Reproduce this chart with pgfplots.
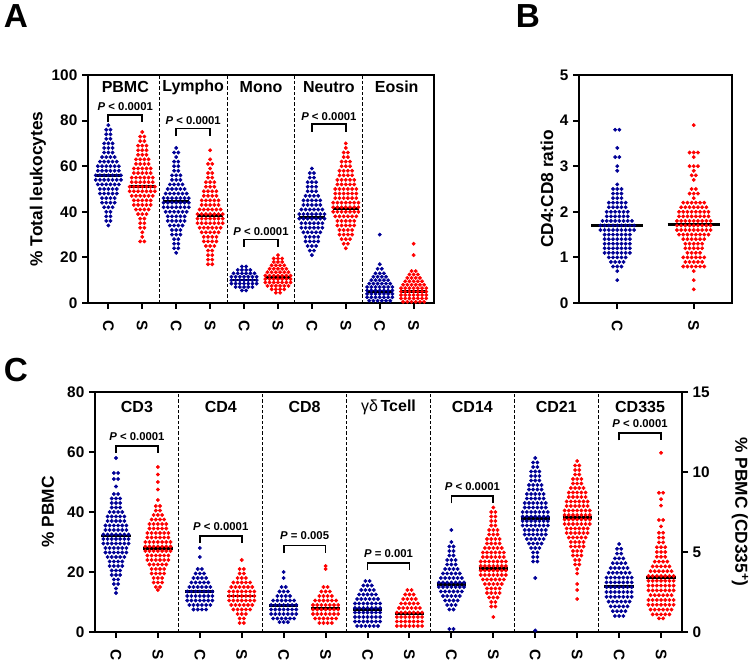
\documentclass[border=0pt]{standalone}
\usepackage{fontspec}
\setmainfont{Liberation Sans}
\usepackage{pgfplots}
\pgfplotsset{compat=1.18}
\definecolor{cb}{RGB}{0,0,150}
\definecolor{cr}{RGB}{255,0,0}
\newcommand\tk{\bfseries\fontsize{11.5}{13}\selectfont}
\newcommand\cat{\bfseries\fontsize{12}{14}\selectfont}
\newcommand\pv{\bfseries\fontsize{8.5}{10}\selectfont}
\newcommand\yl{\bfseries\fontsize{13}{15}\selectfont}
\newcommand\pl{\bfseries\fontsize{25}{27}\selectfont}
\def\ha{0.062}
\def\hb{0.0275}
\def\hc{0.05}
\tikzset{div/.style={black, line width=0.7pt, dash pattern=on 2.5pt off 1.5pt}}
\pgfplotsset{
  panel/.style={scale only axis, clip=false, axis line style={line width=1.5pt},
    tick align=outside, tick pos=left, major tick length=4.5pt,
    tick style={black, line width=1.5pt},
    /pgf/number format/assume math mode=true,
    yticklabel style={font=\tk},
    xticklabel style={font=\tk, rotate=-90, anchor=west},
    xticklabel shift=5pt, ymin=0},
  pc/.style={only marks, mark=*, mark size=1.25pt, color=cb},
  ps/.style={only marks, mark=*, mark size=1.25pt, color=cr},
  med/.style={black, line width=2.2pt},
  brk/.style={black, line width=1.3pt},
}
\begin{document}
\begin{tikzpicture}
\path[use as bounding box] (0,0) rectangle (565.5pt,-499.5pt);
\node[font=\pl] at (12pt,-12pt) {A};
\node[font=\pl] at (396pt,-12pt) {B};
\node[font=\pl] at (12pt,-277.5pt) {C};

% ---------------- panel A
\begin{axis}[panel, at={(66pt,-227.25pt)}, anchor=south west,
  width=259.5pt, height=171pt, xmin=0.4, xmax=10.6, ymax=100,
  ytick={0,20,...,100}, xtick={1,...,10},
  xticklabels={C,S,C,S,C,S,C,S,C,S}]
\pgfplotsinvokeforeach{2.5,4.5,6.5,8.5}{\draw[div] (axis cs:#1,0) -- (axis cs:#1,100);}
\node[font=\yl, rotate=90] at ([xshift=-37.5pt]rel axis cs:0,0.5) {\% Total leukocytes};
\node[font=\cat] at (axis cs:1.5,94.7) {PBMC};
\node[font=\cat] at (axis cs:3.5,94.7) {Lympho};
\node[font=\cat] at (axis cs:5.5,94.7) {Mono};
\node[font=\cat] at (axis cs:7.5,94.7) {Neutro};
\node[font=\cat] at (axis cs:9.5,94.7) {Eosin};
% PBMC C
\addplot[pc] table[row sep=\\, x expr=1+\ha*\thisrow{d}]{d y\\
0 78\\ -1 76\\ 1 76\\ -1 74\\ 1 74\\ -1 72\\ 1 72\\
-2 70\\ 0 70\\ 2 70\\ -2 68\\ 0 68\\ 2 68\\ -2 66\\ 0 66\\ 2 66\\
-3 64\\ -1 64\\ 1 64\\ 3 64\\
-4 62\\ -2 62\\ 0 62\\ 2 62\\ 4 62\\
-5 60\\ -3 60\\ -1 60\\ 1 60\\ 3 60\\ 5 60\\
-5 58\\ -3 58\\ -1 58\\ 1 58\\ 3 58\\ 5 58\\
-6 56\\ -4 56\\ -2 56\\ 0 56\\ 2 56\\ 4 56\\ 6 56\\
-6 54\\ -4 54\\ -2 54\\ 0 54\\ 2 54\\ 4 54\\ 6 54\\
-5 52\\ -3 52\\ -1 52\\ 1 52\\ 3 52\\ 5 52\\
-4 50\\ -2 50\\ 0 50\\ 2 50\\ 4 50\\
-4 48\\ -2 48\\ 0 48\\ 2 48\\ 4 48\\
-3 46\\ -1 46\\ 1 46\\ 3 46\\ -3 44\\ -1 44\\ 1 44\\ 3 44\\
-2 42\\ 0 42\\ 2 42\\ -1 40\\ 1 40\\ -1 38\\ 1 38\\ -1 36\\ 1 36\\ 0 34\\
};
% PBMC S
\addplot[ps] table[row sep=\\, x expr=2+\ha*\thisrow{d}]{d y\\
0 75\\ -1 73\\ 1 73\\ -1 71\\ 1 71\\
-2 69\\ 0 69\\ 2 69\\ -2 67\\ 0 67\\ 2 67\\ -2 65\\ 0 65\\ 2 65\\
-3 63\\ -1 63\\ 1 63\\ 3 63\\ -3 61\\ -1 61\\ 1 61\\ 3 61\\
-4 59\\ -2 59\\ 0 59\\ 2 59\\ 4 59\\ -4 57\\ -2 57\\ 0 57\\ 2 57\\ 4 57\\
-5 55\\ -3 55\\ -1 55\\ 1 55\\ 3 55\\ 5 55\\
-5 53\\ -3 53\\ -1 53\\ 1 53\\ 3 53\\ 5 53\\
-6 51\\ -4 51\\ -2 51\\ 0 51\\ 2 51\\ 4 51\\ 6 51\\
-6 49\\ -4 49\\ -2 49\\ 0 49\\ 2 49\\ 4 49\\ 6 49\\
-5 47\\ -3 47\\ -1 47\\ 1 47\\ 3 47\\ 5 47\\
-4 45\\ -2 45\\ 0 45\\ 2 45\\ 4 45\\ -4 43\\ -2 43\\ 0 43\\ 2 43\\ 4 43\\
-3 41\\ -1 41\\ 1 41\\ 3 41\\ -2 39\\ 0 39\\ 2 39\\
-1 37\\ 1 37\\ -1 35\\ 1 35\\ -1 33\\ 1 33\\ 0 31\\ 0 29\\ -1 27\\ 1 27\\
};
% Lympho C
\addplot[pc] table[row sep=\\, x expr=3+\ha*\thisrow{d}]{d y\\
0 68\\ -1 66\\ 1 66\\ 0 64\\ -1 62\\ 1 62\\ -1 60\\ 1 60\\ -1 58\\ 1 58\\
-2 56\\ 0 56\\ 2 56\\ -2 54\\ 0 54\\ 2 54\\
-3 52\\ -1 52\\ 1 52\\ 3 52\\
-4 50\\ -2 50\\ 0 50\\ 2 50\\ 4 50\\
-5 48\\ -3 48\\ -1 48\\ 1 48\\ 3 48\\ 5 48\\
-6 46\\ -4 46\\ -2 46\\ 0 46\\ 2 46\\ 4 46\\ 6 46\\
-6 44\\ -4 44\\ -2 44\\ 0 44\\ 2 44\\ 4 44\\ 6 44\\
-6 42\\ -4 42\\ -2 42\\ 0 42\\ 2 42\\ 4 42\\ 6 42\\
-5 40\\ -3 40\\ -1 40\\ 1 40\\ 3 40\\ 5 40\\
-4 38\\ -2 38\\ 0 38\\ 2 38\\ 4 38\\ -4 36\\ -2 36\\ 0 36\\ 2 36\\ 4 36\\
-3 34\\ -1 34\\ 1 34\\ 3 34\\ -2 32\\ 0 32\\ 2 32\\ -2 30\\ 0 30\\ 2 30\\
-1 28\\ 1 28\\ -1 26\\ 1 26\\ -1 24\\ 1 24\\ 0 22\\
};
% Lympho S
\addplot[ps] table[row sep=\\, x expr=4+\ha*\thisrow{d}]{d y\\
0 67\\ 0 63\\ -1 61\\ 1 61\\ 0 59\\ -1 57\\ 1 57\\ -1 55\\ 1 55\\
-2 53\\ 0 53\\ 2 53\\ -2 51\\ 0 51\\ 2 51\\
-3 49\\ -1 49\\ 1 49\\ 3 49\\ -3 47\\ -1 47\\ 1 47\\ 3 47\\
-4 45\\ -2 45\\ 0 45\\ 2 45\\ 4 45\\ -4 43\\ -2 43\\ 0 43\\ 2 43\\ 4 43\\
-5 41\\ -3 41\\ -1 41\\ 1 41\\ 3 41\\ 5 41\\
-6 39\\ -4 39\\ -2 39\\ 0 39\\ 2 39\\ 4 39\\ 6 39\\
-6 37\\ -4 37\\ -2 37\\ 0 37\\ 2 37\\ 4 37\\ 6 37\\
-6 35\\ -4 35\\ -2 35\\ 0 35\\ 2 35\\ 4 35\\ 6 35\\
-5 33\\ -3 33\\ -1 33\\ 1 33\\ 3 33\\ 5 33\\
-4 31\\ -2 31\\ 0 31\\ 2 31\\ 4 31\\
-3 29\\ -1 29\\ 1 29\\ 3 29\\ -3 27\\ -1 27\\ 1 27\\ 3 27\\
-2 25\\ 0 25\\ 2 25\\ -1 23\\ 1 23\\ -1 21\\ 1 21\\ -1 19\\ 1 19\\ -1 17\\ 1 17\\
};
% Mono C
\addplot[pc] table[row sep=\\, x expr=5+\ha*\thisrow{d}]{d y\\
-1 16\\ 1 16\\ -3 14.5\\ -1 14.5\\ 1 14.5\\ 3 14.5\\
-5 13\\ -3 13\\ -1 13\\ 1 13\\ 3 13\\ 5 13\\
-6 11.5\\ -4 11.5\\ -2 11.5\\ 0 11.5\\ 2 11.5\\ 4 11.5\\ 6 11.5\\
-6 10\\ -4 10\\ -2 10\\ 0 10\\ 2 10\\ 4 10\\ 6 10\\
-6 8.5\\ -4 8.5\\ -2 8.5\\ 0 8.5\\ 2 8.5\\ 4 8.5\\ 6 8.5\\
-4 7\\ -2 7\\ 0 7\\ 2 7\\ 4 7\\ -1 5.5\\ 1 5.5\\
};
% Mono S
\addplot[ps] table[row sep=\\, x expr=6+\ha*\thisrow{d}]{d y\\
0 21\\ -2 19.5\\ 0 19.5\\ 2 19.5\\ -2 18\\ 0 18\\ 2 18\\
-3 16.5\\ -1 16.5\\ 1 16.5\\ 3 16.5\\
-4 15\\ -2 15\\ 0 15\\ 2 15\\ 4 15\\
-5 13.5\\ -3 13.5\\ -1 13.5\\ 1 13.5\\ 3 13.5\\ 5 13.5\\
-6 12\\ -4 12\\ -2 12\\ 0 12\\ 2 12\\ 4 12\\ 6 12\\
-6 10.5\\ -4 10.5\\ -2 10.5\\ 0 10.5\\ 2 10.5\\ 4 10.5\\ 6 10.5\\
-6 9\\ -4 9\\ -2 9\\ 0 9\\ 2 9\\ 4 9\\ 6 9\\
-5 7.5\\ -3 7.5\\ -1 7.5\\ 1 7.5\\ 3 7.5\\ 5 7.5\\
-3 6\\ -1 6\\ 1 6\\ 3 6\\ -1 4.5\\ 1 4.5\\
};
% Neutro C
\addplot[pc] table[row sep=\\, x expr=7+\ha*\thisrow{d}]{d y\\
0 59\\ -1 57\\ 1 57\\ -1 55\\ 1 55\\
-2 53\\ 0 53\\ 2 53\\ -2 51\\ 0 51\\ 2 51\\ -2 49\\ 0 49\\ 2 49\\
-3 47\\ -1 47\\ 1 47\\ 3 47\\
-4 45\\ -2 45\\ 0 45\\ 2 45\\ 4 45\\ -4 43\\ -2 43\\ 0 43\\ 2 43\\ 4 43\\
-5 41\\ -3 41\\ -1 41\\ 1 41\\ 3 41\\ 5 41\\
-6 39\\ -4 39\\ -2 39\\ 0 39\\ 2 39\\ 4 39\\ 6 39\\
-6 37\\ -4 37\\ -2 37\\ 0 37\\ 2 37\\ 4 37\\ 6 37\\
-5 35\\ -3 35\\ -1 35\\ 1 35\\ 3 35\\ 5 35\\
-5 33\\ -3 33\\ -1 33\\ 1 33\\ 3 33\\ 5 33\\
-4 31\\ -2 31\\ 0 31\\ 2 31\\ 4 31\\
-3 29\\ -1 29\\ 1 29\\ 3 29\\ -3 27\\ -1 27\\ 1 27\\ 3 27\\
-2 25\\ 0 25\\ 2 25\\ -1 23\\ 1 23\\ 0 21\\
};
% Neutro S
\addplot[ps] table[row sep=\\, x expr=8+\ha*\thisrow{d}]{d y\\
0 70\\ 0 68\\ -1 66\\ 1 66\\ -1 64\\ 1 64\\
-2 62\\ 0 62\\ 2 62\\ -2 60\\ 0 60\\ 2 60\\
-3 58\\ -1 58\\ 1 58\\ 3 58\\ -3 56\\ -1 56\\ 1 56\\ 3 56\\
-4 54\\ -2 54\\ 0 54\\ 2 54\\ 4 54\\ -4 52\\ -2 52\\ 0 52\\ 2 52\\ 4 52\\
-5 50\\ -3 50\\ -1 50\\ 1 50\\ 3 50\\ 5 50\\
-5 48\\ -3 48\\ -1 48\\ 1 48\\ 3 48\\ 5 48\\
-5 46\\ -3 46\\ -1 46\\ 1 46\\ 3 46\\ 5 46\\
-6 44\\ -4 44\\ -2 44\\ 0 44\\ 2 44\\ 4 44\\ 6 44\\
-6 42\\ -4 42\\ -2 42\\ 0 42\\ 2 42\\ 4 42\\ 6 42\\
-6 40\\ -4 40\\ -2 40\\ 0 40\\ 2 40\\ 4 40\\ 6 40\\
-5 38\\ -3 38\\ -1 38\\ 1 38\\ 3 38\\ 5 38\\
-4 36\\ -2 36\\ 0 36\\ 2 36\\ 4 36\\ -4 34\\ -2 34\\ 0 34\\ 2 34\\ 4 34\\
-3 32\\ -1 32\\ 1 32\\ 3 32\\ -3 30\\ -1 30\\ 1 30\\ 3 30\\
-2 28\\ 0 28\\ 2 28\\ -1 26\\ 1 26\\ 0 24\\
};
% Eosin C
\addplot[pc] table[row sep=\\, x expr=9+\ha*\thisrow{d}]{d y\\
0 30\\ 0 17\\ -1 15\\ 1 15\\ -2 13\\ 0 13\\ 2 13\\
-3 11.5\\ -1 11.5\\ 1 11.5\\ 3 11.5\\
-4 10\\ -2 10\\ 0 10\\ 2 10\\ 4 10\\
-5 8.5\\ -3 8.5\\ -1 8.5\\ 1 8.5\\ 3 8.5\\ 5 8.5\\
-6 7\\ -4 7\\ -2 7\\ 0 7\\ 2 7\\ 4 7\\ 6 7\\
-6 5.5\\ -4 5.5\\ -2 5.5\\ 0 5.5\\ 2 5.5\\ 4 5.5\\ 6 5.5\\
-6 4\\ -4 4\\ -2 4\\ 0 4\\ 2 4\\ 4 4\\ 6 4\\
-6 2.5\\ -4 2.5\\ -2 2.5\\ 0 2.5\\ 2 2.5\\ 4 2.5\\ 6 2.5\\
-5 1\\ -3 1\\ -1 1\\ 1 1\\ 3 1\\ 5 1\\
};
% Eosin S
\addplot[ps] table[row sep=\\, x expr=10+\ha*\thisrow{d}]{d y\\
0 26\\ 0 21\\ -1 14\\ 1 14\\ -2 12.5\\ 0 12.5\\ 2 12.5\\
-3 11\\ -1 11\\ 1 11\\ 3 11\\
-4 9.5\\ -2 9.5\\ 0 9.5\\ 2 9.5\\ 4 9.5\\
-5 8\\ -3 8\\ -1 8\\ 1 8\\ 3 8\\ 5 8\\
-6 6.5\\ -4 6.5\\ -2 6.5\\ 0 6.5\\ 2 6.5\\ 4 6.5\\ 6 6.5\\
-6 5\\ -4 5\\ -2 5\\ 0 5\\ 2 5\\ 4 5\\ 6 5\\
-6 3.5\\ -4 3.5\\ -2 3.5\\ 0 3.5\\ 2 3.5\\ 4 3.5\\ 6 3.5\\
-6 2\\ -4 2\\ -2 2\\ 0 2\\ 2 2\\ 4 2\\ 6 2\\
-5 0.5\\ -3 0.5\\ -1 0.5\\ 1 0.5\\ 3 0.5\\ 5 0.5\\
};
% medians
\addplot[med] coordinates {(0.62,56.1) (1.38,56.1)};
\addplot[med] coordinates {(1.62,51) (2.38,51)};
\addplot[med] coordinates {(2.62,44.4) (3.38,44.4)};
\addplot[med] coordinates {(3.62,38.2) (4.38,38.2)};
\addplot[med] coordinates {(4.62,10.1) (5.38,10.1)};
\addplot[med] coordinates {(5.62,11.3) (6.38,11.3)};
\addplot[med] coordinates {(6.62,37.4) (7.38,37.4)};
\addplot[med] coordinates {(7.62,41.5) (8.38,41.5)};
\addplot[med] coordinates {(8.62,5) (9.38,5)};
\addplot[med] coordinates {(9.62,5) (10.38,5)};
% significance brackets
\addplot[brk] coordinates {(1,79.3) (1,82.3) (2,82.3) (2,79.3)};
\node[font=\pv] at (axis cs:1.5,86) {\textit{P} < 0.0001};
\addplot[brk] coordinates {(3,73.2) (3,76.5) (4,76.5) (4,73.2)};
\node[font=\pv] at (axis cs:3.5,80) {\textit{P} < 0.0001};
\addplot[brk] coordinates {(5,24.6) (5,27.8) (6,27.8) (6,24.6)};
\node[font=\pv] at (axis cs:5.5,31.3) {\textit{P} < 0.0001};
\addplot[brk] coordinates {(7,75.2) (7,78.4) (8,78.4) (8,75.2)};
\node[font=\pv] at (axis cs:7.5,81.8) {\textit{P} < 0.0001};
\end{axis}

% ---------------- panel B
\begin{axis}[panel, at={(434.25pt,-227.25pt)}, anchor=south west,
  width=114.75pt, height=171pt, xmin=0.5, xmax=2.5, ymax=5,
  ytick={0,...,5}, xtick={1,2}, xticklabels={C,S}]
\node[font=\yl, rotate=90] at ([xshift=-24pt]rel axis cs:0,0.5) {CD4:CD8 ratio};
% C
\addplot[pc] table[row sep=\\, x expr=1+\hb*\thisrow{d}]{d y\\
-1 3.8\\ 1 3.8\\ 0 3.4\\ -1 3.2\\ 1 3.2\\ 0 3.0\\ 0 2.9\\ 0 2.6\\
-2 2.5\\ 0 2.5\\ 2 2.5\\ -2 2.4\\ 0 2.4\\ 2 2.4\\ -2 2.3\\ 0 2.3\\ 2 2.3\\
-4 2.2\\ -2 2.2\\ 0 2.2\\ 2 2.2\\ 4 2.2\\ -4 2.1\\ -2 2.1\\ 0 2.1\\ 2 2.1\\ 4 2.1\\
-5 2.0\\ -3 2.0\\ -1 2.0\\ 1 2.0\\ 3 2.0\\ 5 2.0\\
-5 1.9\\ -3 1.9\\ -1 1.9\\ 1 1.9\\ 3 1.9\\ 5 1.9\\
-7 1.8\\ -5 1.8\\ -3 1.8\\ -1 1.8\\ 1 1.8\\ 3 1.8\\ 5 1.8\\ 7 1.8\\
-8 1.7\\ -6 1.7\\ -4 1.7\\ -2 1.7\\ 0 1.7\\ 2 1.7\\ 4 1.7\\ 6 1.7\\ 8 1.7\\
-8 1.6\\ -6 1.6\\ -4 1.6\\ -2 1.6\\ 0 1.6\\ 2 1.6\\ 4 1.6\\ 6 1.6\\ 8 1.6\\
-6 1.5\\ -4 1.5\\ -2 1.5\\ 0 1.5\\ 2 1.5\\ 4 1.5\\ 6 1.5\\
-6 1.4\\ -4 1.4\\ -2 1.4\\ 0 1.4\\ 2 1.4\\ 4 1.4\\ 6 1.4\\
-6 1.3\\ -4 1.3\\ -2 1.3\\ 0 1.3\\ 2 1.3\\ 4 1.3\\ 6 1.3\\
-6 1.2\\ -4 1.2\\ -2 1.2\\ 0 1.2\\ 2 1.2\\ 4 1.2\\ 6 1.2\\
-6 1.1\\ -4 1.1\\ -2 1.1\\ 0 1.1\\ 2 1.1\\ 4 1.1\\ 6 1.1\\
-4 1.0\\ -2 1.0\\ 0 1.0\\ 2 1.0\\ 4 1.0\\
-3 0.9\\ -1 0.9\\ 1 0.9\\ 3 0.9\\ -2 0.8\\ 0 0.8\\ 2 0.8\\ 0 0.7\\ 0 0.5\\
};
% S
\addplot[ps] table[row sep=\\, x expr=2+\hb*\thisrow{d}]{d y\\
0 3.9\\ -2 3.3\\ 0 3.3\\ 2 3.3\\ 0 3.2\\ -2 3.0\\ 0 3.0\\ 2 3.0\\ 0 2.9\\
-1 2.8\\ 1 2.8\\ 0 2.7\\ -1 2.5\\ 1 2.5\\ -2 2.4\\ 0 2.4\\ 2 2.4\\ 0 2.3\\
-5 2.2\\ -3 2.2\\ -1 2.2\\ 1 2.2\\ 3 2.2\\ 5 2.2\\
-6 2.1\\ -4 2.1\\ -2 2.1\\ 0 2.1\\ 2 2.1\\ 4 2.1\\ 6 2.1\\
-7 2.0\\ -5 2.0\\ -3 2.0\\ -1 2.0\\ 1 2.0\\ 3 2.0\\ 5 2.0\\ 7 2.0\\
-7 1.9\\ -5 1.9\\ -3 1.9\\ -1 1.9\\ 1 1.9\\ 3 1.9\\ 5 1.9\\ 7 1.9\\
-8 1.8\\ -6 1.8\\ -4 1.8\\ -2 1.8\\ 0 1.8\\ 2 1.8\\ 4 1.8\\ 6 1.8\\ 8 1.8\\
-8 1.7\\ -6 1.7\\ -4 1.7\\ -2 1.7\\ 0 1.7\\ 2 1.7\\ 4 1.7\\ 6 1.7\\ 8 1.7\\
-8 1.6\\ -6 1.6\\ -4 1.6\\ -2 1.6\\ 0 1.6\\ 2 1.6\\ 4 1.6\\ 6 1.6\\ 8 1.6\\
-7 1.5\\ -5 1.5\\ -3 1.5\\ -1 1.5\\ 1 1.5\\ 3 1.5\\ 5 1.5\\ 7 1.5\\
-5 1.4\\ -3 1.4\\ -1 1.4\\ 1 1.4\\ 3 1.4\\ 5 1.4\\
-4 1.3\\ -2 1.3\\ 0 1.3\\ 2 1.3\\ 4 1.3\\ -4 1.2\\ -2 1.2\\ 0 1.2\\ 2 1.2\\ 4 1.2\\
-3 1.1\\ -1 1.1\\ 1 1.1\\ 3 1.1\\
-5 1.0\\ -3 1.0\\ -1 1.0\\ 1 1.0\\ 3 1.0\\ 5 1.0\\
-4 0.9\\ -2 0.9\\ 0 0.9\\ 2 0.9\\ 4 0.9\\
-5 0.8\\ -3 0.8\\ -1 0.8\\ 1 0.8\\ 3 0.8\\ 5 0.8\\
0 0.7\\ 0 0.5\\ 0 0.3\\
};
\addplot[med] coordinates {(0.66,1.70) (1.34,1.70)};
\addplot[med] coordinates {(1.66,1.73) (2.34,1.73)};
\end{axis}

% ---------------- panel C
\begin{axis}[panel, at={(71.25pt,-474pt)}, anchor=south west,
  width=440.25pt, height=180pt, xmin=0.5, xmax=14.5, ymax=80,
  ytick={0,20,...,80}, xtick={1,...,14},
  xticklabels={C,S,C,S,C,S,C,S,C,S,C,S,C,S}]
\pgfplotsinvokeforeach{2.5,4.5,6.5,8.5,10.5,12.5}{\draw[div] (axis cs:#1,0) -- (axis cs:#1,80);}
\node[font=\yl, rotate=90] at ([xshift=-35.25pt]rel axis cs:0,0.5) {\% PBMC};
\node[font=\cat] at (axis cs:1.5,75) {CD3};
\node[font=\cat] at (axis cs:3.5,75) {CD4};
\node[font=\cat] at (axis cs:5.5,75) {CD8};
\node[font=\cat] at (axis cs:7.5,75) {{\mdseries γδ}\,Tcell};
\node[font=\cat] at (axis cs:9.5,75) {CD14};
\node[font=\cat] at (axis cs:11.5,75) {CD21};
\node[font=\cat] at (axis cs:13.5,75) {CD335};
% CD3 C
\addplot[pc] table[row sep=\\, x expr=1+\hc*\thisrow{d}]{d y\\
0 58\\ -1 53\\ 1 53\\ -1 51\\ 1 51\\ 0 48.5\\ -1 46\\ 1 46\\
-2 44.5\\ 0 44.5\\ 2 44.5\\ -2 43\\ 0 43\\ 2 43\\ -2 41.5\\ 0 41.5\\ 2 41.5\\
-3 40\\ -1 40\\ 1 40\\ 3 40\\
-4 38.5\\ -2 38.5\\ 0 38.5\\ 2 38.5\\ 4 38.5\\ -4 37\\ -2 37\\ 0 37\\ 2 37\\ 4 37\\
-5 35.5\\ -3 35.5\\ -1 35.5\\ 1 35.5\\ 3 35.5\\ 5 35.5\\
-5 34\\ -3 34\\ -1 34\\ 1 34\\ 3 34\\ 5 34\\
-6 32.5\\ -4 32.5\\ -2 32.5\\ 0 32.5\\ 2 32.5\\ 4 32.5\\ 6 32.5\\
-6 31\\ -4 31\\ -2 31\\ 0 31\\ 2 31\\ 4 31\\ 6 31\\
-6 29.5\\ -4 29.5\\ -2 29.5\\ 0 29.5\\ 2 29.5\\ 4 29.5\\ 6 29.5\\
-5 28\\ -3 28\\ -1 28\\ 1 28\\ 3 28\\ 5 28\\
-5 26.5\\ -3 26.5\\ -1 26.5\\ 1 26.5\\ 3 26.5\\ 5 26.5\\
-4 25\\ -2 25\\ 0 25\\ 2 25\\ 4 25\\
-3 23.5\\ -1 23.5\\ 1 23.5\\ 3 23.5\\ -3 22\\ -1 22\\ 1 22\\ 3 22\\
-2 20.5\\ 0 20.5\\ 2 20.5\\ -2 19\\ 0 19\\ 2 19\\
-1 17.5\\ 1 17.5\\ -1 16\\ 1 16\\ 0 14.5\\ 0 13\\
};
% CD3 S
\addplot[ps] table[row sep=\\, x expr=2+\hc*\thisrow{d}]{d y\\
0 55\\ 0 52.5\\ 0 50\\ 0 47.5\\ 0 44\\ -1 42\\ 1 42\\ -1 40.5\\ 1 40.5\\
-2 39\\ 0 39\\ 2 39\\ -3 37.5\\ -1 37.5\\ 1 37.5\\ 3 37.5\\
-4 36\\ -2 36\\ 0 36\\ 2 36\\ 4 36\\ -4 34.5\\ -2 34.5\\ 0 34.5\\ 2 34.5\\ 4 34.5\\
-5 33\\ -3 33\\ -1 33\\ 1 33\\ 3 33\\ 5 33\\
-5 31.5\\ -3 31.5\\ -1 31.5\\ 1 31.5\\ 3 31.5\\ 5 31.5\\
-6 30\\ -4 30\\ -2 30\\ 0 30\\ 2 30\\ 4 30\\ 6 30\\
-6 28.5\\ -4 28.5\\ -2 28.5\\ 0 28.5\\ 2 28.5\\ 4 28.5\\ 6 28.5\\
-6 27\\ -4 27\\ -2 27\\ 0 27\\ 2 27\\ 4 27\\ 6 27\\
-5 25.5\\ -3 25.5\\ -1 25.5\\ 1 25.5\\ 3 25.5\\ 5 25.5\\
-5 24\\ -3 24\\ -1 24\\ 1 24\\ 3 24\\ 5 24\\
-4 22.5\\ -2 22.5\\ 0 22.5\\ 2 22.5\\ 4 22.5\\
-3 21\\ -1 21\\ 1 21\\ 3 21\\ -3 19.5\\ -1 19.5\\ 1 19.5\\ 3 19.5\\
-2 18\\ 0 18\\ 2 18\\ -2 16.5\\ 0 16.5\\ 2 16.5\\ -1 15\\ 1 15\\ 0 14\\
};
% CD4 C
\addplot[pc] table[row sep=\\, x expr=3+\hc*\thisrow{d}]{d y\\
0 28\\ 0 25\\ -1 21\\ 1 21\\ -2 19.5\\ 0 19.5\\ 2 19.5\\
-3 18\\ -1 18\\ 1 18\\ 3 18\\ -4 16.5\\ -2 16.5\\ 0 16.5\\ 2 16.5\\ 4 16.5\\
-5 15\\ -3 15\\ -1 15\\ 1 15\\ 3 15\\ 5 15\\
-6 13.5\\ -4 13.5\\ -2 13.5\\ 0 13.5\\ 2 13.5\\ 4 13.5\\ 6 13.5\\
-6 12\\ -4 12\\ -2 12\\ 0 12\\ 2 12\\ 4 12\\ 6 12\\
-6 10.5\\ -4 10.5\\ -2 10.5\\ 0 10.5\\ 2 10.5\\ 4 10.5\\ 6 10.5\\
-5 9\\ -3 9\\ -1 9\\ 1 9\\ 3 9\\ 5 9\\ -3 7.5\\ -1 7.5\\ 1 7.5\\ 3 7.5\\
};
% CD4 S
\addplot[ps] table[row sep=\\, x expr=4+\hc*\thisrow{d}]{d y\\
0 24\\ -1 21\\ 1 21\\ -1 19.5\\ 1 19.5\\ -2 18\\ 0 18\\ 2 18\\
-4 16.5\\ -2 16.5\\ 0 16.5\\ 2 16.5\\ 4 16.5\\
-5 15\\ -3 15\\ -1 15\\ 1 15\\ 3 15\\ 5 15\\
-6 13.5\\ -4 13.5\\ -2 13.5\\ 0 13.5\\ 2 13.5\\ 4 13.5\\ 6 13.5\\
-6 12\\ -4 12\\ -2 12\\ 0 12\\ 2 12\\ 4 12\\ 6 12\\
-6 10.5\\ -4 10.5\\ -2 10.5\\ 0 10.5\\ 2 10.5\\ 4 10.5\\ 6 10.5\\
-5 9\\ -3 9\\ -1 9\\ 1 9\\ 3 9\\ 5 9\\
-4 7.5\\ -2 7.5\\ 0 7.5\\ 2 7.5\\ 4 7.5\\
-2 6\\ 0 6\\ 2 6\\ -1 4.5\\ 1 4.5\\ -1 3\\ 1 3\\
};
% CD8 C
\addplot[pc] table[row sep=\\, x expr=5+\hc*\thisrow{d}]{d y\\
0 20\\ 0 18\\ -1 15\\ 1 15\\ -2 13.5\\ 0 13.5\\ 2 13.5\\
-3 12\\ -1 12\\ 1 12\\ 3 12\\ -5 10.5\\ -3 10.5\\ -1 10.5\\ 1 10.5\\ 3 10.5\\ 5 10.5\\
-6 9\\ -4 9\\ -2 9\\ 0 9\\ 2 9\\ 4 9\\ 6 9\\
-6 7.5\\ -4 7.5\\ -2 7.5\\ 0 7.5\\ 2 7.5\\ 4 7.5\\ 6 7.5\\
-6 6\\ -4 6\\ -2 6\\ 0 6\\ 2 6\\ 4 6\\ 6 6\\
-5 4.5\\ -3 4.5\\ -1 4.5\\ 1 4.5\\ 3 4.5\\ 5 4.5\\ -2 3.3\\ 0 3.3\\ 2 3.3\\
};
% CD8 S
\addplot[ps] table[row sep=\\, x expr=6+\hc*\thisrow{d}]{d y\\
0 22\\ 0 21\\ -1 15\\ 1 15\\ -2 13.5\\ 0 13.5\\ 2 13.5\\
-3 12\\ -1 12\\ 1 12\\ 3 12\\ -5 10.5\\ -3 10.5\\ -1 10.5\\ 1 10.5\\ 3 10.5\\ 5 10.5\\
-6 9\\ -4 9\\ -2 9\\ 0 9\\ 2 9\\ 4 9\\ 6 9\\
-6 7.5\\ -4 7.5\\ -2 7.5\\ 0 7.5\\ 2 7.5\\ 4 7.5\\ 6 7.5\\
-6 6\\ -4 6\\ -2 6\\ 0 6\\ 2 6\\ 4 6\\ 6 6\\
-5 4.5\\ -3 4.5\\ -1 4.5\\ 1 4.5\\ 3 4.5\\ 5 4.5\\ -3 3\\ -1 3\\ 1 3\\ 3 3\\
};
% gd C
\addplot[pc] table[row sep=\\, x expr=7+\hc*\thisrow{d}]{d y\\
-1 17\\ 1 17\\ -2 15.5\\ 0 15.5\\ 2 15.5\\ -3 14\\ -1 14\\ 1 14\\ 3 14\\
-4 12.5\\ -2 12.5\\ 0 12.5\\ 2 12.5\\ 4 12.5\\
-5 11\\ -3 11\\ -1 11\\ 1 11\\ 3 11\\ 5 11\\
-6 9.5\\ -4 9.5\\ -2 9.5\\ 0 9.5\\ 2 9.5\\ 4 9.5\\ 6 9.5\\
-6 8\\ -4 8\\ -2 8\\ 0 8\\ 2 8\\ 4 8\\ 6 8\\
-6 6.5\\ -4 6.5\\ -2 6.5\\ 0 6.5\\ 2 6.5\\ 4 6.5\\ 6 6.5\\
-6 5\\ -4 5\\ -2 5\\ 0 5\\ 2 5\\ 4 5\\ 6 5\\
-6 3.5\\ -4 3.5\\ -2 3.5\\ 0 3.5\\ 2 3.5\\ 4 3.5\\ 6 3.5\\
-5 2\\ -3 2\\ -1 2\\ 1 2\\ 3 2\\ 5 2\\
};
% gd S
\addplot[ps] table[row sep=\\, x expr=8+\hc*\thisrow{d}]{d y\\
-1 14\\ 1 14\\ -2 12.5\\ 0 12.5\\ 2 12.5\\ -3 11\\ -1 11\\ 1 11\\ 3 11\\
-4 9.5\\ -2 9.5\\ 0 9.5\\ 2 9.5\\ 4 9.5\\
-5 8\\ -3 8\\ -1 8\\ 1 8\\ 3 8\\ 5 8\\
-6 6.5\\ -4 6.5\\ -2 6.5\\ 0 6.5\\ 2 6.5\\ 4 6.5\\ 6 6.5\\
-6 5\\ -4 5\\ -2 5\\ 0 5\\ 2 5\\ 4 5\\ 6 5\\
-6 3.5\\ -4 3.5\\ -2 3.5\\ 0 3.5\\ 2 3.5\\ 4 3.5\\ 6 3.5\\
-6 2\\ -4 2\\ -2 2\\ 0 2\\ 2 2\\ 4 2\\ 6 2\\
};
% CD14 C
\addplot[pc] table[row sep=\\, x expr=9+\hc*\thisrow{d}]{d y\\
0 34\\ 0 30\\ -1 28.5\\ 1 28.5\\ -1 27\\ 1 27\\ -1 25.5\\ 1 25.5\\
-2 24\\ 0 24\\ 2 24\\ -2 22.5\\ 0 22.5\\ 2 22.5\\
-3 21\\ -1 21\\ 1 21\\ 3 21\\ -4 19.5\\ -2 19.5\\ 0 19.5\\ 2 19.5\\ 4 19.5\\
-5 18\\ -3 18\\ -1 18\\ 1 18\\ 3 18\\ 5 18\\
-6 16.5\\ -4 16.5\\ -2 16.5\\ 0 16.5\\ 2 16.5\\ 4 16.5\\ 6 16.5\\
-6 15\\ -4 15\\ -2 15\\ 0 15\\ 2 15\\ 4 15\\ 6 15\\
-5 13.5\\ -3 13.5\\ -1 13.5\\ 1 13.5\\ 3 13.5\\ 5 13.5\\
-4 12\\ -2 12\\ 0 12\\ 2 12\\ 4 12\\ -3 10.5\\ -1 10.5\\ 1 10.5\\ 3 10.5\\
-2 9\\ 0 9\\ 2 9\\ -1 7.5\\ 1 7.5\\ -1 1\\ 1 1\\
};
% CD14 S
\addplot[ps] table[row sep=\\, x expr=10+\hc*\thisrow{d}]{d y\\
0 41.5\\ -1 40\\ 1 40\\ -1 38.5\\ 1 38.5\\ -1 37\\ 1 37\\ -1 35.5\\ 1 35.5\\
-2 34\\ 0 34\\ 2 34\\ -2 32.5\\ 0 32.5\\ 2 32.5\\
-3 31\\ -1 31\\ 1 31\\ 3 31\\ -3 29.5\\ -1 29.5\\ 1 29.5\\ 3 29.5\\
-4 28\\ -2 28\\ 0 28\\ 2 28\\ 4 28\\
-5 26.5\\ -3 26.5\\ -1 26.5\\ 1 26.5\\ 3 26.5\\ 5 26.5\\
-5 25\\ -3 25\\ -1 25\\ 1 25\\ 3 25\\ 5 25\\
-6 23.5\\ -4 23.5\\ -2 23.5\\ 0 23.5\\ 2 23.5\\ 4 23.5\\ 6 23.5\\
-6 22\\ -4 22\\ -2 22\\ 0 22\\ 2 22\\ 4 22\\ 6 22\\
-6 20.5\\ -4 20.5\\ -2 20.5\\ 0 20.5\\ 2 20.5\\ 4 20.5\\ 6 20.5\\
-6 19\\ -4 19\\ -2 19\\ 0 19\\ 2 19\\ 4 19\\ 6 19\\
-5 17.5\\ -3 17.5\\ -1 17.5\\ 1 17.5\\ 3 17.5\\ 5 17.5\\
-4 16\\ -2 16\\ 0 16\\ 2 16\\ 4 16\\
-3 14.5\\ -1 14.5\\ 1 14.5\\ 3 14.5\\ -3 13\\ -1 13\\ 1 13\\ 3 13\\
-2 11.5\\ 0 11.5\\ 2 11.5\\ -1 10\\ 1 10\\ -1 8.5\\ 1 8.5\\ 0 5\\
};
% CD21 C
\addplot[pc] table[row sep=\\, x expr=11+\hc*\thisrow{d}]{d y\\
0 58\\ -1 56.5\\ 1 56.5\\ -1 55\\ 1 55\\
-2 53.5\\ 0 53.5\\ 2 53.5\\ -2 52\\ 0 52\\ 2 52\\ -2 50.5\\ 0 50.5\\ 2 50.5\\
-3 49\\ -1 49\\ 1 49\\ 3 49\\ -3 47.5\\ -1 47.5\\ 1 47.5\\ 3 47.5\\
-4 46\\ -2 46\\ 0 46\\ 2 46\\ 4 46\\ -4 44.5\\ -2 44.5\\ 0 44.5\\ 2 44.5\\ 4 44.5\\
-5 43\\ -3 43\\ -1 43\\ 1 43\\ 3 43\\ 5 43\\
-5 41.5\\ -3 41.5\\ -1 41.5\\ 1 41.5\\ 3 41.5\\ 5 41.5\\
-6 40\\ -4 40\\ -2 40\\ 0 40\\ 2 40\\ 4 40\\ 6 40\\
-6 38.5\\ -4 38.5\\ -2 38.5\\ 0 38.5\\ 2 38.5\\ 4 38.5\\ 6 38.5\\
-6 37\\ -4 37\\ -2 37\\ 0 37\\ 2 37\\ 4 37\\ 6 37\\
-6 35.5\\ -4 35.5\\ -2 35.5\\ 0 35.5\\ 2 35.5\\ 4 35.5\\ 6 35.5\\
-5 34\\ -3 34\\ -1 34\\ 1 34\\ 3 34\\ 5 34\\
-5 32.5\\ -3 32.5\\ -1 32.5\\ 1 32.5\\ 3 32.5\\ 5 32.5\\
-4 31\\ -2 31\\ 0 31\\ 2 31\\ 4 31\\ -3 29.5\\ -1 29.5\\ 1 29.5\\ 3 29.5\\
-2 28\\ 0 28\\ 2 28\\ -1 26.5\\ 1 26.5\\ -1 25\\ 1 25\\ -1 23.5\\ 1 23.5\\
0 18\\ 0 0.5\\
};
% CD21 S
\addplot[ps] table[row sep=\\, x expr=12+\hc*\thisrow{d}]{d y\\
0 57\\ -1 55.5\\ 1 55.5\\ -1 54\\ 1 54\\ -1 52.5\\ 1 52.5\\
-2 51\\ 0 51\\ 2 51\\ -2 49.5\\ 0 49.5\\ 2 49.5\\ -3 48\\ -1 48\\ 1 48\\ 3 48\\
-4 46.5\\ -2 46.5\\ 0 46.5\\ 2 46.5\\ 4 46.5\\ -4 45\\ -2 45\\ 0 45\\ 2 45\\ 4 45\\
-5 43.5\\ -3 43.5\\ -1 43.5\\ 1 43.5\\ 3 43.5\\ 5 43.5\\
-5 42\\ -3 42\\ -1 42\\ 1 42\\ 3 42\\ 5 42\\
-6 40.5\\ -4 40.5\\ -2 40.5\\ 0 40.5\\ 2 40.5\\ 4 40.5\\ 6 40.5\\
-6 39\\ -4 39\\ -2 39\\ 0 39\\ 2 39\\ 4 39\\ 6 39\\
-6 37.5\\ -4 37.5\\ -2 37.5\\ 0 37.5\\ 2 37.5\\ 4 37.5\\ 6 37.5\\
-6 36\\ -4 36\\ -2 36\\ 0 36\\ 2 36\\ 4 36\\ 6 36\\
-5 34.5\\ -3 34.5\\ -1 34.5\\ 1 34.5\\ 3 34.5\\ 5 34.5\\
-5 33\\ -3 33\\ -1 33\\ 1 33\\ 3 33\\ 5 33\\
-4 31.5\\ -2 31.5\\ 0 31.5\\ 2 31.5\\ 4 31.5\\
-3 30\\ -1 30\\ 1 30\\ 3 30\\ -3 28.5\\ -1 28.5\\ 1 28.5\\ 3 28.5\\
-2 27\\ 0 27\\ 2 27\\ -2 25.5\\ 0 25.5\\ 2 25.5\\
-1 24\\ 1 24\\ -1 22.5\\ 1 22.5\\ 0 21\\ 0 19.5\\ 0 16\\ 0 14\\ 0 11\\
};
% medians
\addplot[med] coordinates {(0.65,32) (1.35,32)};
\addplot[med] coordinates {(1.65,27.9) (2.35,27.9)};
\addplot[med] coordinates {(2.65,13.4) (3.35,13.4)};
\addplot[med] coordinates {(3.65,12) (4.35,12)};
\addplot[med] coordinates {(4.65,8.7) (5.35,8.7)};
\addplot[med] coordinates {(5.65,7.9) (6.35,7.9)};
\addplot[med] coordinates {(6.65,7.6) (7.35,7.6)};
\addplot[med] coordinates {(7.65,6.2) (8.35,6.2)};
\addplot[med] coordinates {(8.65,15.7) (9.35,15.7)};
\addplot[med] coordinates {(9.65,21.2) (10.35,21.2)};
\addplot[med] coordinates {(10.65,37.9) (11.35,37.9)};
\addplot[med] coordinates {(11.65,38.2) (12.35,38.2)};
% brackets
\addplot[brk] coordinates {(1,59.6) (1,62) (2,62) (2,59.6)};
\node[font=\pv] at (axis cs:1.5,65.2) {\textit{P} < 0.0001};
\addplot[brk] coordinates {(3,29.6) (3,32) (4,32) (4,29.6)};
\node[font=\pv] at (axis cs:3.5,35.2) {\textit{P} < 0.0001};
\addplot[brk] coordinates {(5,26.3) (5,28.8) (6,28.8) (6,26.3)};
\node[font=\pv] at (axis cs:5.5,32) {\textit{P} = 0.005};
\addplot[brk] coordinates {(7,20.6) (7,23) (8,23) (8,20.6)};
\node[font=\pv] at (axis cs:7.5,26.2) {\textit{P} = 0.001};
\addplot[brk] coordinates {(9,42.9) (9,45.3) (10,45.3) (10,42.9)};
\node[font=\pv] at (axis cs:9.5,48.5) {\textit{P} < 0.0001};
\addplot[brk] coordinates {(13,63.9) (13,66.3) (14,66.3) (14,63.9)};
\node[font=\pv] at (axis cs:13.5,69.5) {\textit{P} < 0.0001};
\end{axis}

% CD335 on the right-hand scale
\begin{axis}[panel, at={(71.25pt,-474pt)}, anchor=south west,
  width=440.25pt, height=180pt, xmin=0.5, xmax=14.5, ymax=15,
  axis y line*=right, hide x axis, ytick={0,5,10,15}, tick pos=right,
  yticklabel style={font=\tk, anchor=west}]
\node[font=\yl, rotate=-90] at ([xshift=43.5pt]rel axis cs:1,0.5) {\% PBMC (CD335\textsuperscript{+})};
% CD335 C
\addplot[pc] table[row sep=\\, x expr=13+\hc*\thisrow{d}]{d y\\
0 5.5\\ -1 5.2\\ 1 5.2\\ -1 4.9\\ 1 4.9\\ -2 4.6\\ 0 4.6\\ 2 4.6\\
-3 4.3\\ -1 4.3\\ 1 4.3\\ 3 4.3\\ -4 4.0\\ -2 4.0\\ 0 4.0\\ 2 4.0\\ 4 4.0\\
-5 3.7\\ -3 3.7\\ -1 3.7\\ 1 3.7\\ 3 3.7\\ 5 3.7\\
-6 3.4\\ -4 3.4\\ -2 3.4\\ 0 3.4\\ 2 3.4\\ 4 3.4\\ 6 3.4\\
-6 3.1\\ -4 3.1\\ -2 3.1\\ 0 3.1\\ 2 3.1\\ 4 3.1\\ 6 3.1\\
-6 2.8\\ -4 2.8\\ -2 2.8\\ 0 2.8\\ 2 2.8\\ 4 2.8\\ 6 2.8\\
-6 2.5\\ -4 2.5\\ -2 2.5\\ 0 2.5\\ 2 2.5\\ 4 2.5\\ 6 2.5\\
-6 2.2\\ -4 2.2\\ -2 2.2\\ 0 2.2\\ 2 2.2\\ 4 2.2\\ 6 2.2\\
-5 1.9\\ -3 1.9\\ -1 1.9\\ 1 1.9\\ 3 1.9\\ 5 1.9\\
-4 1.6\\ -2 1.6\\ 0 1.6\\ 2 1.6\\ 4 1.6\\ -3 1.3\\ -1 1.3\\ 1 1.3\\ 3 1.3\\
-2 1.0\\ 0 1.0\\ 2 1.0\\
};
% CD335 S
\addplot[ps] table[row sep=\\, x expr=14+\hc*\thisrow{d}]{d y\\
0 11.2\\ -1 8.7\\ 1 8.7\\ 0 8.3\\ 0 7.9\\ -1 7.0\\ 1 7.0\\ 0 6.6\\
-1 6.2\\ 1 6.2\\ -1 5.9\\ 1 5.9\\ -1 5.6\\ 1 5.6\\
-2 5.3\\ 0 5.3\\ 2 5.3\\ -2 5.0\\ 0 5.0\\ 2 5.0\\ -2 4.7\\ 0 4.7\\ 2 4.7\\
-3 4.4\\ -1 4.4\\ 1 4.4\\ 3 4.4\\ -4 4.1\\ -2 4.1\\ 0 4.1\\ 2 4.1\\ 4 4.1\\
-5 3.8\\ -3 3.8\\ -1 3.8\\ 1 3.8\\ 3 3.8\\ 5 3.8\\
-6 3.5\\ -4 3.5\\ -2 3.5\\ 0 3.5\\ 2 3.5\\ 4 3.5\\ 6 3.5\\
-6 3.2\\ -4 3.2\\ -2 3.2\\ 0 3.2\\ 2 3.2\\ 4 3.2\\ 6 3.2\\
-6 2.9\\ -4 2.9\\ -2 2.9\\ 0 2.9\\ 2 2.9\\ 4 2.9\\ 6 2.9\\
-6 2.6\\ -4 2.6\\ -2 2.6\\ 0 2.6\\ 2 2.6\\ 4 2.6\\ 6 2.6\\
-5 2.3\\ -3 2.3\\ -1 2.3\\ 1 2.3\\ 3 2.3\\ 5 2.3\\
-6 2.0\\ -4 2.0\\ -2 2.0\\ 0 2.0\\ 2 2.0\\ 4 2.0\\ 6 2.0\\
-6 1.7\\ -4 1.7\\ -2 1.7\\ 0 1.7\\ 2 1.7\\ 4 1.7\\ 6 1.7\\
-5 1.4\\ -3 1.4\\ -1 1.4\\ 1 1.4\\ 3 1.4\\ 5 1.4\\
-4 1.1\\ -2 1.1\\ 0 1.1\\ 2 1.1\\ 4 1.1\\ -1 0.85\\ 1 0.85\\
};
\addplot[med] coordinates {(12.65,2.83) (13.35,2.83)};
\addplot[med] coordinates {(13.65,3.4) (14.35,3.4)};
\end{axis}
\end{tikzpicture}
\end{document}
